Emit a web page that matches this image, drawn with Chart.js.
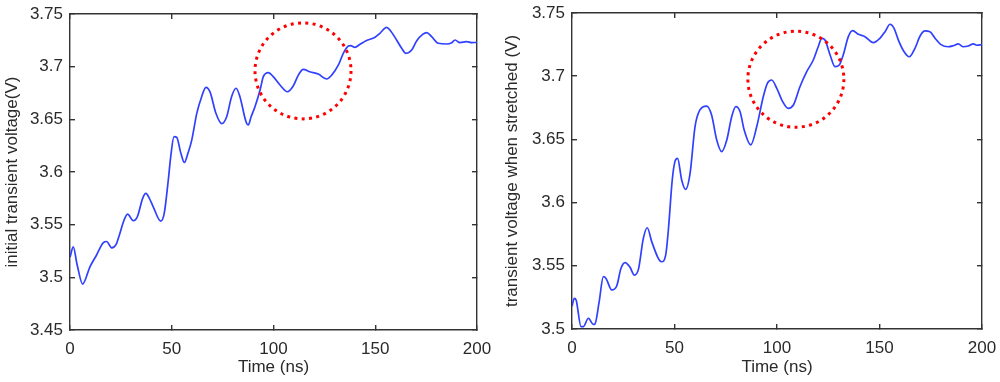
<!DOCTYPE html>
<html>
<head>
<meta charset="utf-8">
<script src="https://cdn.jsdelivr.net/npm/chart.js@4"></script>
<style>
  html, body { margin: 0; padding: 0; background: #fff; }
  #wrap { position: relative; width: 1000px; height: 382px; }
  .box { position: absolute; top: 0; height: 382px; }
  #leftBox { left: 0; width: 495px; }
  #rightBox { left: 495px; width: 505px; }
</style>
</head>
<body>
<div id="wrap">
  <div class="box" id="leftBox"><canvas id="leftChart"></canvas></div>
  <div class="box" id="rightBox"><canvas id="rightChart"></canvas></div>
</div>
<script>
// left panel: initial transient voltage
const leftTime = [0, 1.6, 3.5, 6.2, 9.8, 13, 16.4, 18, 20.5, 22.6, 24.5, 26.5, 28.3, 31.1, 33.1, 35.7, 37.3, 39, 40.9, 44.6,
  46.3, 48.3, 49.5, 51.1, 52.4, 54.5, 56.2, 58, 59.8, 62.3, 64.7, 66.8, 68.8, 71.7, 74.5, 77, 79.4, 81.6, 83.5, 86.5,
  87.6, 89, 90.9, 93.4, 95, 97.5, 99.9, 103.2, 106.8, 109.7, 112.2, 114.6, 117.9, 122, 126.1, 128.6, 131.9, 134.3, 136.8, 137.9,
  140, 142.5, 145.5, 149.9, 152.3, 155.6, 157.2, 160.5, 163, 165.1, 167.9, 170.4, 173.3, 175.3, 177.7, 181, 185.1, 187.6, 189.2, 191.6,
  194.9, 197.4, 200];
const leftVoltage = [3.519, 3.529, 3.512, 3.4936, 3.510, 3.521, 3.533, 3.534, 3.528, 3.531, 3.5417, 3.554, 3.560, 3.5537, 3.5575, 3.575, 3.5797, 3.575, 3.567, 3.5534,
  3.5607, 3.5924, 3.6145, 3.6335, 3.633, 3.6177, 3.609, 3.618, 3.630, 3.6557, 3.6715, 3.6804, 3.676, 3.6557, 3.646, 3.6525, 3.6715, 3.6795, 3.6715, 3.6477,
  3.6446, 3.6525, 3.662, 3.6778, 3.6905, 3.6943, 3.6905, 3.6826, 3.6762, 3.6816, 3.692, 3.6975, 3.6952, 3.693, 3.6883, 3.692, 3.7016, 3.7127, 3.7196, 3.72,
  3.7184, 3.7212, 3.7247, 3.7279, 3.7317, 3.7373, 3.7348, 3.7253, 3.7174, 3.7127, 3.7158, 3.7247, 3.7307, 3.7323, 3.7285, 3.7222, 3.7215, 3.7228, 3.7253, 3.7228,
  3.7237, 3.7228, 3.723];

// right panel: transient voltage when stretched
const rightTime = [0, 1.1, 2, 4.4, 5.5, 8, 10.4, 11.2, 13.2, 15.3, 16.6, 19.4, 21.8, 23.9, 25.9, 28.3, 30.4, 32.4, 34.8, 36.7,
  38.9, 42.1, 43.7, 45.7, 47, 48.9, 50.2, 51.5, 53.5, 55.4, 57.6, 60, 62.4, 65.7, 68.1, 70.6, 73, 75.5, 77.9, 79.9,
  82, 84, 87.2, 90.1, 93.3, 95.3, 97.4, 99.9, 102.8, 105.5, 108, 111.2, 114.5, 117.7, 120.1, 121.8, 123.4, 125.9, 128.3, 130.4,
  132.3, 134.8, 136.9, 139.7, 142.9, 147, 150.2, 152.7, 155.1, 157.1, 159.2, 162, 164.5, 167.3, 169.8, 172.2, 174.6, 177.1, 179.8, 183.6,
  186, 188.4, 190.9, 193.3, 195.8, 197.4, 200];
const rightVoltage = [3.518, 3.5243, 3.523, 3.5018, 3.5018, 3.5085, 3.5037, 3.504, 3.521, 3.5414, 3.54, 3.5309, 3.534, 3.548, 3.5525, 3.5488, 3.5427, 3.5472, 3.5717, 3.5801,
  3.5691, 3.5559, 3.5532, 3.5585, 3.5783, 3.6179, 3.6324, 3.635, 3.6179, 3.6105, 3.6232, 3.66, 3.6733, 3.6764, 3.6693, 3.6495, 3.6403, 3.6495, 3.668, 3.6759,
  3.6719, 3.6574, 3.6456, 3.66, 3.6838, 3.6944, 3.697, 3.6904, 3.6798, 3.6746, 3.6772, 3.6917, 3.7036, 3.7128, 3.7233, 3.73, 3.7286, 3.7168, 3.7075, 3.7089,
  3.7168, 3.7313, 3.736, 3.7331, 3.7313, 3.7265, 3.73, 3.7352, 3.7411, 3.7379, 3.7286, 3.7194, 3.7154, 3.7221, 3.7318, 3.7358, 3.7352, 3.73, 3.7252, 3.7233,
  3.7241, 3.7255, 3.7233, 3.7239, 3.7255, 3.7245, 3.725];

const timeTicks = [0, 50, 100, 150, 200];
const leftVoltTicks = [3.45, 3.5, 3.55, 3.6, 3.65, 3.7, 3.75];
const rightVoltTicks = [3.5, 3.55, 3.6, 3.65, 3.7, 3.75];

// centres of the highlighted regions (time, voltage)
const leftCircle = [114.5, 3.696];
const rightCircle = [109.2, 3.6976];

const ink = '#2a2a2a';
const font = { family: "'Liberation Sans', Arial, sans-serif", size: 17 };

const dottedCircle = {
    id: 'dottedCircle',
    afterDatasetsDraw(chart, args, opts) {
        const ctx = chart.ctx;
        const cx = chart.scales.x.getPixelForValue(opts.center[0]);
        const cy = chart.scales.y.getPixelForValue(opts.center[1]);
        ctx.save();
        ctx.beginPath();
        ctx.arc(cx, cy, opts.radius, 0, Math.PI * 2);
        ctx.setLineDash([3, 4.36]);
        ctx.lineWidth = 3;
        ctx.strokeStyle = '#f00';
        ctx.stroke();
        ctx.restore();
    }
};

function setTicks(list) {
    return scale => { scale.ticks = list.map(v => ({ value: v })); };
}

function makeChart(id, time, volt, yMin, yMax, yTicks, yTitle, circle, opt) {
    const grid = { drawOnChartArea: false, tickLength: -5, color: '#333', lineWidth: 1.4 };
    const border = { color: '#333', width: 1.4 };
    return new Chart(document.getElementById(id), {
        type: 'line',
        data: {
            datasets: [{
                data: time.map((t, i) => ({ x: t, y: volt[i] })),
                borderColor: '#3040ff',
                borderWidth: 1.7,
                pointRadius: 0,
                cubicInterpolationMode: 'monotone',
                fill: false,
                xAxisID: 'x',
                yAxisID: 'y'
            }]
        },
        options: {
            responsive: true,
            maintainAspectRatio: false,
            animation: false,
            devicePixelRatio: 1,
            layout: { padding: { top: opt.top, right: 18, bottom: 0, left: 0 } },
            plugins: {
                legend: { display: false },
                tooltip: { enabled: false },
                dottedCircle: { center: circle, radius: 48 }
            },
            scales: {
                x: {
                    type: 'linear', position: 'bottom', min: 0, max: 200,
                    afterBuildTicks: setTicks(timeTicks),
                    grid: grid, border: border,
                    ticks: { padding: 14, color: ink, font: font, maxRotation: 0, callback: v => String(v) },
                    title: { display: true, text: 'Time (ns)', color: ink, font: font, padding: { top: 0, bottom: 4 } },
                    afterFit: s => { s.height = opt.xHeight; s.paddingLeft = 0; s.paddingRight = 0; }
                },
                x2: {
                    type: 'linear', position: 'top', min: 0, max: 200,
                    afterBuildTicks: setTicks(timeTicks),
                    grid: grid, border: border,
                    ticks: { display: false },
                    afterFit: s => { s.height = 0; s.paddingLeft = 0; s.paddingRight = 0; }
                },
                y: {
                    type: 'linear', position: 'left', min: yMin, max: yMax,
                    afterBuildTicks: setTicks(yTicks),
                    grid: grid, border: border,
                    ticks: { padding: 12, color: ink, font: font, callback: v => String(v) },
                    title: { display: true, text: yTitle, color: ink, font: font, padding: { top: opt.titlePad, bottom: 0 } },
                    afterFit: s => { s.width = opt.yWidth; s.paddingTop = 0; s.paddingBottom = 0; }
                },
                y2: {
                    type: 'linear', position: 'right', min: yMin, max: yMax,
                    afterBuildTicks: setTicks(yTicks),
                    grid: grid, border: border,
                    ticks: { display: false },
                    afterFit: s => { s.width = 0; s.paddingTop = 0; s.paddingBottom = 0; }
                }
            }
        },
        plugins: [dottedCircle]
    });
}

makeChart('leftChart', leftTime, leftVoltage, 3.45, 3.75, leftVoltTicks,
    'initial transient voltage(V)', leftCircle, { top: 14, xHeight: 52, yWidth: 70, titlePad: 2 });
makeChart('rightChart', rightTime, rightVoltage, 3.5, 3.75, rightVoltTicks,
    'transient voltage when stretched (V)', rightCircle, { top: 13, xHeight: 53, yWidth: 77, titlePad: 7 });
</script>
</body>
</html>
